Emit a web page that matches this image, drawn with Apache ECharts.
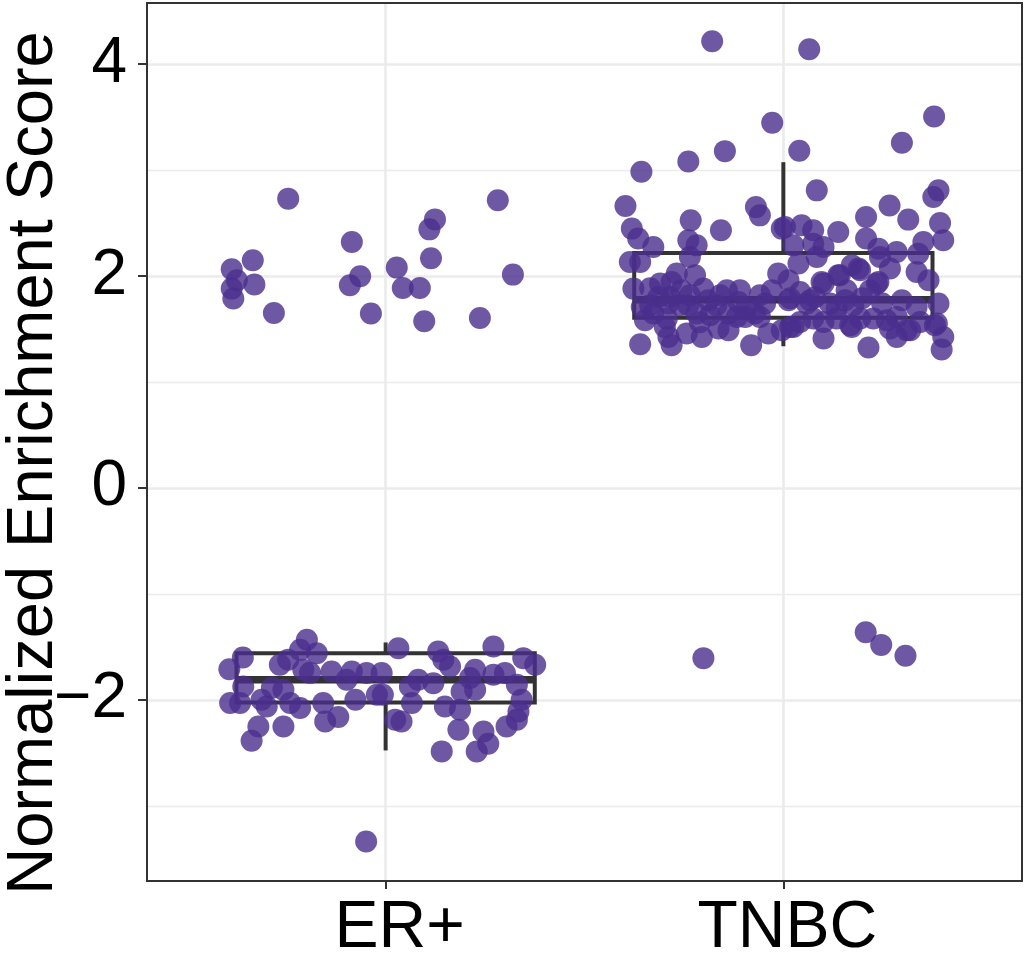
<!DOCTYPE html>
<html>
<head>
<meta charset="utf-8">
<script src="https://cdn.jsdelivr.net/npm/echarts@6/dist/echarts.min.js"></script>
<style>
  html, body { margin: 0; padding: 0; background: #fff; }
  #main { width: 1024px; height: 972px; }
</style>
</head>
<body>
<div id="main"></div>
<script>
// groups on the x axis (discrete positions 1, 2)
const groups = ['ER+', 'TNBC'];
const groupPos = [1, 2];

// boxplot stats
const boxMin = [-2.478, 1.336];
const boxQ1 = [-2.025, 1.605];
const boxMedian = [-1.811, 1.775];
const boxQ3 = [-1.560, 2.216];
const boxMax = [-1.459, 3.073];

// jittered points, ER+
const erX = [
  0.755, 0.915, 0.666, 0.613, 0.626, 0.670, 0.613, 0.617, 0.719, 0.936, 0.910,
  0.963, 1.124, 1.110, 1.114, 1.028, 1.043, 1.086, 1.097, 1.237, 1.282, 1.320,
  0.641, 0.607, 0.642, 0.609, 0.634, 0.688, 0.680, 0.663, 0.743, 0.714, 0.734,
  0.755, 0.785, 0.802, 0.827, 0.793, 0.810, 0.743, 0.760, 0.785, 0.701, 0.843,
  0.848, 0.881, 0.864, 0.902, 0.915, 0.924, 0.952, 0.978,
  1.032, 1.132, 1.271, 1.346, 1.376, 0.990, 0.993, 1.066, 1.082, 1.061, 1.120,
  1.145, 1.162, 1.149, 1.187, 1.191, 1.225, 1.225, 1.212, 1.271, 1.300, 1.330,
  1.342, 1.334, 1.330, 1.304, 1.024, 1.040, 1.183, 1.246, 1.258, 1.229, 1.141,
  0.951
];
const erY = [
  2.729, 2.320, 2.147, 2.062, 1.959, 1.918, 1.880, 1.786, 1.650, 1.996, 1.911,
  1.645, 2.533, 2.439, 2.166, 2.078, 1.886, 1.886, 1.572, 1.603, 2.713, 2.012,
  -1.601, -1.711, -1.875, -2.031, -2.031, -2.000, -2.252, -2.386, -2.252, -1.887, -1.670,
  -1.623, -1.529, -1.434, -1.560, -1.717, -1.746, -1.906, -2.031, -2.078, -2.063, -2.031,
  -2.205, -2.163, -1.733, -1.811, -1.733, -2.000, -1.748, -1.953,
  -1.513, -1.545, -1.498, -1.607, -1.670, -1.748, -1.953, -2.031, -1.811, -1.875, -1.843,
  -1.623, -1.686, -2.063, -2.094, -1.922, -1.717, -1.906, -1.795, -1.764, -1.748, -1.859,
  -2.000, -2.110, -2.188, -2.252, -2.188, -2.205, -2.283, -2.299, -2.415, -2.487, -2.487,
  -3.338
];

// jittered points, TNBC
const tnbcX = [
  1.821, 2.065, 1.972, 2.379, 1.853, 1.761, 1.643, 2.040, 2.298, 2.084, 1.603,
  1.931, 2.267, 2.390, 2.377, 2.208, 1.767, 2.314, 2.394, 1.941, 1.843, 1.619,
  1.635, 1.673, 1.761, 1.782, 1.996, 1.614, 1.640, 1.765, 1.623, 1.732, 1.690,
  1.778, 1.799, 1.858, 1.719, 1.744, 1.686, 1.644, 1.711, 1.761, 1.811, 1.887,
  1.929, 1.971, 1.987, 1.652, 1.702, 1.757, 1.795, 1.837, 1.862, 1.711, 1.640,
  1.719, 1.919, 1.962, 1.996, 1.904, 1.954,
  2.046, 2.075, 2.138, 2.004, 2.208, 2.402, 2.352, 2.025, 2.075, 2.101, 2.239,
  2.285, 2.339, 2.084, 2.038, 2.243, 2.268, 2.189, 2.172, 2.335, 2.365, 2.138,
  2.101, 2.013, 2.235, 2.218, 2.159, 2.013, 2.067, 2.117, 2.176, 2.390, 2.335,
  2.226, 2.285, 2.344, 2.386, 2.101, 2.168, 2.025, 2.268, 2.310, 2.402, 2.101,
  2.285, 2.214, 2.398,
  1.665, 1.740, 1.832, 1.908, 1.673, 1.782, 1.816, 1.862, 1.883, 1.707, 1.941,
  1.715, 1.765, 1.841, 1.665, 2.042, 2.096, 2.142, 2.193, 2.239, 2.059, 2.134,
  2.017, 2.172, 2.042, 2.075, 2.134, 2.193, 2.260, 2.017, 2.080, 2.155, 2.198,
  2.248, 2.298, 2.319, 2.381, 1.891, 1.790, 1.941,
  1.799, 2.207, 2.246, 2.307
];
const tnbcY = [
  4.214, 4.139, 3.445, 3.504, 3.177, 3.080, 2.983, 3.181, 3.256, 2.807, 2.659,
  2.649, 2.665, 2.807, 2.744, 2.555, 2.524, 2.531, 2.499, 2.571, 2.430, 2.446,
  2.352, 2.272, 2.336, 2.288, 2.446, 2.131, 2.131, 2.178, 1.880, 2.022, 1.927,
  2.006, 1.880, 1.864, 1.943, 1.864, 1.801, 1.707, 1.739, 1.723, 1.770, 1.754,
  1.645, 1.864, 2.022, 1.582, 1.518, 1.456, 1.424, 1.503, 1.487, 1.424, 1.355,
  1.346, 1.346, 1.456, 1.487, 1.613, 1.739,
  2.477, 2.430, 2.414, 2.461, 2.352, 2.336, 2.320, 2.288, 2.304, 2.272, 2.257,
  2.225, 2.210, 2.178, 2.116, 2.178, 2.069, 2.069, 2.100, 2.037, 1.959, 2.006,
  1.927, 1.959, 1.927, 1.864, 1.864, 1.770, 1.770, 1.739, 1.723, 1.739, 1.707,
  1.598, 1.613, 1.565, 1.550, 1.565, 1.534, 1.518, 1.503, 1.487, 1.424, 1.409,
  1.424, 1.324, 1.305,
  1.723, 1.723, 1.723, 1.707, 1.645, 1.645, 1.629, 1.645, 1.613, 1.598, 1.613,
  1.801, 1.817, 1.817, 1.883, 1.848, 1.943, 2.006, 2.053, 1.943, 1.739, 1.692,
  1.518, 1.518, 1.565, 1.598, 1.598, 1.598, 1.582, 1.789, 1.798, 1.770, 1.789,
  1.742, 1.770, 1.487, 1.534, 1.864, 1.563, 1.817,
  -1.607, -1.362, -1.482, -1.585
];

const yMajor = [-2, 0, 2, 4];
const yMinor = [-3, -1, 1, 3];

const boxData = groupPos.map((p, i) => [p, boxMin[i], boxQ1[i], boxMedian[i], boxQ3[i], boxMax[i]]);
const erPoints = erX.map((x, i) => [x, erY[i]]);
const tnbcPoints = tnbcX.map((x, i) => [x, tnbcY[i]]);

const FONT = '"Liberation Sans", Arial, Helvetica, sans-serif';
const BOX_HALF = 0.375;
const pointColor = '#4A2E8D';
const gridGrey = '#EBEBEB';
const darkGrey = '#333333';

var myChart = echarts.init(document.getElementById('main'));

myChart.setOption({
  backgroundColor: '#fff',
  animation: false,
  grid: {
    left: 147,
    top: 3,
    width: 875,
    height: 878,
    show: true,
    borderColor: darkGrey,
    borderWidth: 2,
    backgroundColor: 'transparent',
    z: 10
  },
  xAxis: {
    type: 'value',
    min: 0.4,
    max: 2.6,
    axisLine: { show: false, onZero: false },
    axisTick: {
      show: true,
      length: 8,
      customValues: groupPos,
      lineStyle: { color: darkGrey, width: 2 }
    },
    axisLabel: {
      customValues: groupPos,
      margin: 15,
      fontSize: 66,
      fontFamily: FONT,
      color: '#000',
      formatter: function (v) {
        const i = groupPos.indexOf(v);
        return '{g' + i + '|' + groups[i] + '}';
      },
      rich: {
        g0: { fontSize: 66, fontFamily: FONT, color: '#000', padding: [0, 0, 0, 28] },
        g1: { fontSize: 66, fontFamily: FONT, color: '#000', padding: [0, 0, 0, 8] }
      }
    },
    splitLine: { show: true, lineStyle: { color: gridGrey, width: 2.6 } }
  },
  yAxis: [
    {
      type: 'value',
      min: -3.71,
      max: 4.575,
      axisLine: { show: false, onZero: false },
      axisTick: {
        show: true,
        length: 9,
        customValues: yMajor,
        lineStyle: { color: darkGrey, width: 2 }
      },
      axisLabel: {
        customValues: yMajor,
        margin: 20,
        fontSize: 64,
        fontFamily: FONT,
        color: '#000',
        formatter: function (v) { return v < 0 ? '\u2212' + Math.abs(v) : String(v); }
      },
      splitLine: { show: true, lineStyle: { color: gridGrey, width: 2.6 } }
    },
    {
      type: 'value',
      min: -3.71,
      max: 4.575,
      position: 'left',
      axisLine: { show: false, onZero: false },
      axisTick: { show: false, customValues: yMinor },
      axisLabel: { show: false },
      splitLine: { show: true, lineStyle: { color: gridGrey, width: 1.3 } }
    }
  ],
  graphic: [
    {
      type: 'text',
      x: 34,
      y: 463,
      rotation: Math.PI / 2,
      style: {
        text: 'Normalized Enrichment Score',
        fontSize: 65,
        fontFamily: FONT,
        fill: '#000',
        align: 'center',
        verticalAlign: 'middle'
      }
    }
  ],
  series: [
    {
      type: 'custom',
      data: boxData,
      encode: { x: 0, y: [1, 2, 3, 4, 5] },
      renderItem: function (params, api) {
        const x = api.value(0);
        const lo = api.coord([x, api.value(1)]);
        const q1l = api.coord([x - BOX_HALF, api.value(2)]);
        const medL = api.coord([x - BOX_HALF, api.value(3)]);
        const medR = api.coord([x + BOX_HALF, api.value(3)]);
        const q3r = api.coord([x + BOX_HALF, api.value(4)]);
        const hi = api.coord([x, api.value(5)]);
        const q1c = api.coord([x, api.value(2)]);
        const q3c = api.coord([x, api.value(4)]);
        const line = { stroke: darkGrey, lineWidth: 4 };
        return {
          type: 'group',
          children: [
            { type: 'line', shape: { x1: q3c[0], y1: q3c[1], x2: hi[0], y2: hi[1] }, style: line },
            { type: 'line', shape: { x1: q1c[0], y1: q1c[1], x2: lo[0], y2: lo[1] }, style: line },
            {
              type: 'rect',
              shape: { x: q1l[0], y: q3r[1], width: q3r[0] - q1l[0], height: q1l[1] - q3r[1] },
              style: { fill: '#fff', stroke: darkGrey, lineWidth: 4 }
            },
            { type: 'line', shape: { x1: medL[0], y1: medL[1], x2: medR[0], y2: medR[1] }, style: { stroke: darkGrey, lineWidth: 7.5 } }
          ]
        };
      }
    },
    {
      name: 'ER+',
      type: 'scatter',
      data: erPoints,
      symbolSize: 22,
      itemStyle: { color: pointColor, opacity: 0.8 }
    },
    {
      name: 'TNBC',
      type: 'scatter',
      data: tnbcPoints,
      symbolSize: 22,
      itemStyle: { color: pointColor, opacity: 0.8 }
    }
  ]
});
</script>
</body>
</html>
